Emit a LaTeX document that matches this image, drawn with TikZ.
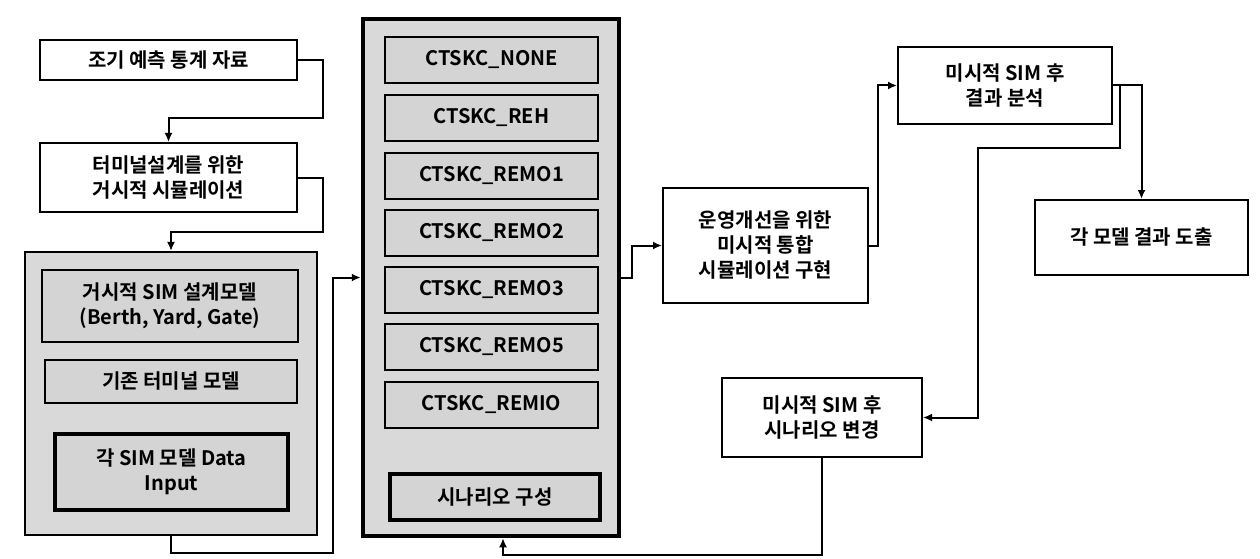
\documentclass[tikz,border=0pt]{standalone}
\usepackage{fontspec}
\setmainfont{Noto Sans CJK KR}[BoldFont={Noto Sans CJK KR Bold}]
\usetikzlibrary{arrows.meta,calc}
\begin{document}
\begin{tikzpicture}[x=1pt,y=-1pt,
  every node/.style={font=\fontsize{20}{25}\selectfont\bfseries, align=center, inner sep=0pt},
  wbox/.style={draw, line width=2pt, fill=white},
  gbox/.style={draw, line width=2pt, fill=black!17},
  tbox/.style={draw, line width=4.5pt, fill=black!17},
  outer/.style={draw, line width=2.2pt, fill=black!15},
  outerthick/.style={draw, line width=4.5pt, fill=black!15},
  conn/.style={line width=2pt, -{Latex[length=9pt,width=8pt]}}]
\useasboundingbox (0,0) rectangle (1260,559);
% left column
\node[wbox, minimum width=257pt, minimum height=40pt] (b1) at (168.5,60) {조기 예측 통계 자료};
\node[wbox, minimum width=257pt, minimum height=69pt] (b2) at (168.5,177.5) {터미널설계를 위한\\거시적 시뮬레이션};
\node[outer, minimum width=292pt, minimum height=283pt] (big) at (171,393.5) {};
\node[gbox, minimum width=256pt, minimum height=72pt] (la) at (170,306) {거시적 SIM 설계모델\\(Berth, Yard, Gate)};
\node[gbox, minimum width=252pt, minimum height=43pt] (lb) at (171,381.5) {기존 터미널 모델};
\node[tbox, minimum width=233pt, minimum height=76pt] (lc) at (171.5,472) {각 SIM 모델 Data\\Input};
% middle column
\node[outerthick, minimum width=256pt, minimum height=517pt] (mid) at (491,277.5) {};
\begin{scope}[every node/.append style={gbox, minimum width=213pt, minimum height=46pt}]
\node (m1) at (491.5,60) {CTSKC\_NONE};
\node (m2) at (491.5,118) {CTSKC\_REH};
\node (m3) at (491.5,175.5) {CTSKC\_REMO1};
\node (m4) at (491.5,232.5) {CTSKC\_REMO2};
\node (m5) at (491.5,290) {CTSKC\_REMO3};
\node (m6) at (491.5,347) {CTSKC\_REMO5};
\node (m7) at (491.5,404.5) {CTSKC\_REMIO};
\end{scope}
\node[tbox, minimum width=210pt, minimum height=46pt] (sc) at (495,497) {시나리오 구성};
% right part
\node[wbox, minimum width=205pt, minimum height=115pt] (M) at (765.5,245.5) {운영개선을 위한\\미시적 통합\\시뮬레이션 구현};
\node[wbox, minimum width=214pt, minimum height=77pt] (R1) at (1005,85.5) {미시적 SIM 후\\결과 분석};
\node[wbox, minimum width=213pt, minimum height=75pt] (R2) at (1141.5,237.5) {각 모델 결과 도출};
\node[wbox, minimum width=200pt, minimum height=79pt] (S) at (822,417.5) {미시적 SIM 후\\시나리오 변경};
% connectors
\coordinate (c1) at (323,118);
\coordinate (c2) at (323,232);
\coordinate (c3) at (333,553);
\coordinate (c4) at (632,277.5);
\coordinate (c5) at (878,245.5);
\coordinate (c6) at (1120,85.5);
\coordinate (c8) at (978,148);
\coordinate (c9) at (503,555);
\draw[conn] (b1.east) -| (c1) -| (b2.north);
\draw[conn] (b2.east) -| (c2) -| (big.north);
\draw[conn] (big.south) |- (c3) |- (mid.west);
\draw[conn] (mid.east) -- (c4) |- (M.west);
\draw[conn] (M.east) -- (c5) |- (R1.west);
\draw[conn] (R1.east) -| (R2.north);
\draw[conn] (c6) |- (c8) |- (S.east);
\draw[conn] (S.south) |- (c9) -- (c9 |- mid.south);
\end{tikzpicture}
\end{document}
